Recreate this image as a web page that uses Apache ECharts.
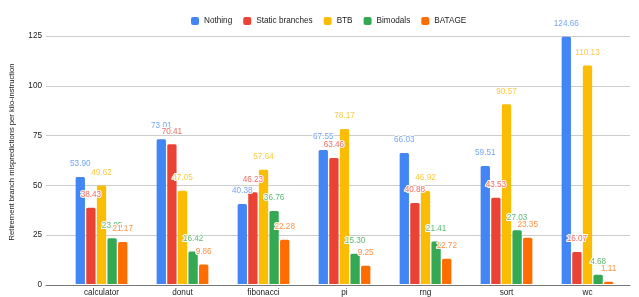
<!DOCTYPE html>
<html>
<head>
<meta charset="utf-8">
<script src="https://cdn.jsdelivr.net/npm/echarts@6/dist/echarts.min.js"></script>
<style>
  html, body { margin: 0; padding: 0; background: #fff; }
  #chart { width: 639px; height: 297px; }
</style>
</head>
<body>
<div id="chart"></div>
<script>
const categories = ['calculator', 'donut', 'fibonacci', 'pi', 'rng', 'sort', 'wc'];
const seriesNames = ['Nothing', 'Static branches', 'BTB', 'Bimodals', 'BATAGE'];
const nothing = [53.90, 73.01, 40.38, 67.55, 66.03, 59.51, 124.66];
const staticBranches = [38.43, 70.41, 46.23, 63.46, 40.88, 43.53, 16.07];
const btb = [49.62, 47.05, 57.64, 78.17, 46.92, 90.57, 110.13];
const bimodals = [23.05, 16.42, 36.76, 15.30, 21.41, 27.03, 4.68];
const batage = [21.17, 9.86, 22.28, 9.25, 12.72, 23.35, 1.11];
const yTicks = [0, 25, 50, 75, 100, 125];
const yTitle = 'Retirement branch mispredictions per kilo-instruction';

const colors = ['#4285F4', '#EA4335', '#FBBC04', '#34A853', '#FF6D01'];
const labelColors = ['#74a6f7', '#ef6b60', '#fccb40', '#5eb974', '#ff9240'];
const values = [nothing, staticBranches, btb, bimodals, batage];
const font = 'Arial, "Liberation Sans", sans-serif';
const fs = 8.2;

const makeSeries = (name, i) => ({
    name: name,
    type: 'bar',
    xAxisIndex: 0,
    yAxisIndex: 0,
    data: values[i],
    barWidth: 9.3,
    barGap: '14%',
    itemStyle: {
        color: colors[i],
        borderRadius: [1.5, 1.5, 0, 0]
    },
    label: {
        show: true,
        position: 'top',
        distance: 9,
        fontSize: fs,
        fontFamily: font,
        color: labelColors[i],
        textBorderColor: '#fff',
        textBorderWidth: 2,
        formatter: (p) => p.value.toFixed(2)
    }
});

const myChart = echarts.init(document.getElementById('chart'), null, { renderer: 'canvas' });
let option;
option = {
    animation: false,
    color: colors,
    textStyle: { fontFamily: font },
    legend: {
        data: seriesNames,
        top: 12,
        left: 186,
        itemWidth: 8,
        itemHeight: 8,
        itemGap: 11,
        icon: 'roundRect',
        textStyle: { fontSize: fs, color: '#222', fontFamily: font }
    },
    grid: [
        // bars area (Google-style inner padding)
        { left: 61, right: 11, top: 36, bottom: 12 },
        // gridlines / baseline area
        { left: 46, right: 9, top: 36, bottom: 12 }
    ],
    xAxis: [
        {
            type: 'category',
            gridIndex: 0,
            data: categories,
            axisLine: { show: false },
            axisTick: { show: false },
            axisLabel: { fontSize: fs, color: '#222', margin: 5, fontFamily: font }
        },
        {
            type: 'value',
            gridIndex: 1,
            min: 0,
            max: 1,
            axisLine: { show: true, lineStyle: { color: '#777', width: 1.2 } },
            axisTick: { show: false },
            axisLabel: { show: false },
            splitLine: { show: false }
        }
    ],
    yAxis: [
        {
            type: 'value',
            gridIndex: 0,
            min: yTicks[0],
            max: yTicks[yTicks.length - 1],
            interval: 25,
            axisLine: { show: false },
            axisTick: { show: false },
            axisLabel: { show: false },
            splitLine: { show: false }
        },
        {
            type: 'value',
            gridIndex: 1,
            min: yTicks[0],
            max: yTicks[yTicks.length - 1],
            interval: 25,
            axisLine: { show: false },
            axisTick: { show: false },
            axisLabel: { fontSize: fs, color: '#222', margin: 4, fontFamily: font },
            splitLine: { lineStyle: { color: '#cccccc' } }
        }
    ],
    graphic: [
        {
            type: 'text',
            x: 12,
            y: 152,
            rotation: Math.PI / 2,
            style: {
                text: yTitle,
                fontSize: 7.6,
                fontFamily: font,
                fill: '#222',
                align: 'center',
                verticalAlign: 'middle'
            }
        }
    ],
    series: seriesNames.map(makeSeries)
};
myChart.setOption(option);
</script>
</body>
</html>
